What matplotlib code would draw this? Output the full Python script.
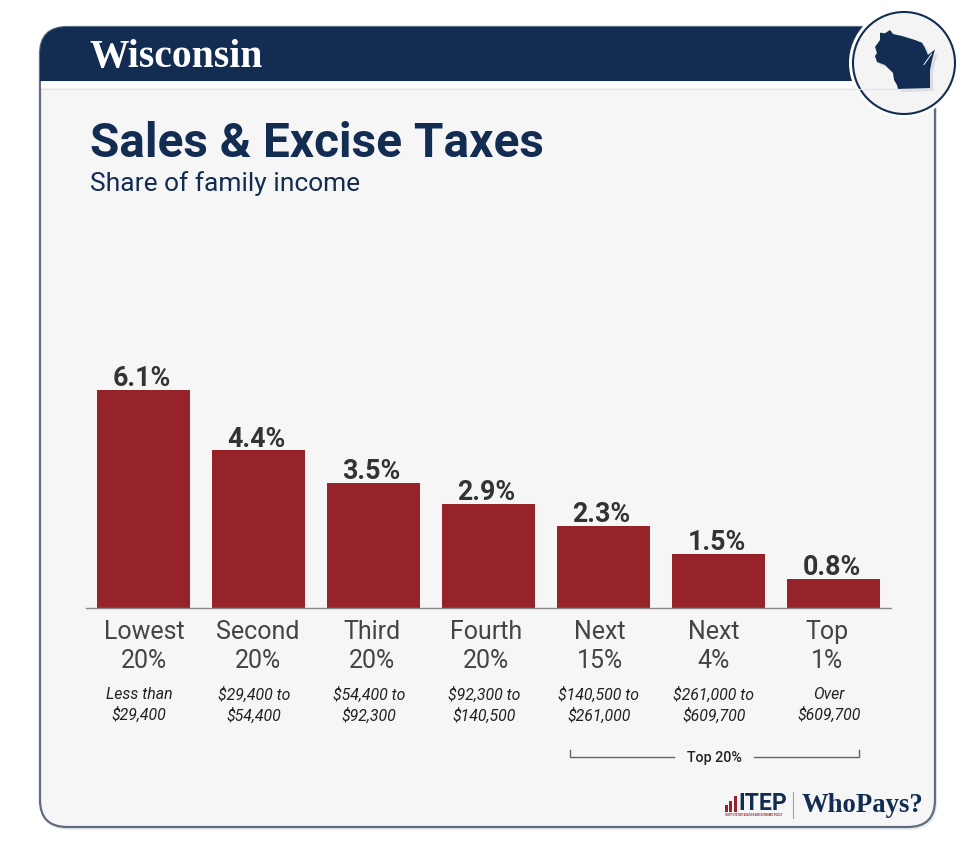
import matplotlib
matplotlib.use("Agg")
import matplotlib.pyplot as plt
from matplotlib.patches import FancyBboxPatch, Circle, Polygon, Rectangle
from matplotlib.path import Path
from matplotlib.patches import PathPatch
from matplotlib.transforms import blended_transform_factory, Affine2D

plt.rcParams["font.family"] = ["Roboto", "DejaVu Sans"]

groups = ["Lowest\n20%", "Second\n20%", "Third\n20%", "Fourth\n20%", "Next\n15%", "Next\n4%", "Top\n1%"]
ranges = ["Less than\n$29,400", "$29,400 to\n$54,400", "$54,400 to\n$92,300", "$92,300 to\n$140,500",
          "$140,500 to\n$261,000", "$261,000 to\n$609,700", "Over\n$609,700"]
values = [6.1, 4.4, 3.5, 2.9, 2.3, 1.5, 0.8]

NAVY = "#132d52"
RED = "#96232a"
GREY = "#444444"
W, H = 975, 858

fig = plt.figure(figsize=(W / 100, H / 100), dpi=100, facecolor="white")

# Fondo de la tarjeta, en pixeles
bg = fig.add_axes([0, 0, 1, 1], zorder=0)
bg.set_xlim(0, W)
bg.set_ylim(H, 0)
bg.axis("off")

bg.add_patch(FancyBboxPatch((42, 30), 895, 800, boxstyle="round,pad=0,rounding_size=27",
                            fc="#d5d8dd", ec="none", alpha=0.5))
bg.add_patch(FancyBboxPatch((40, 27), 895, 800, boxstyle="round,pad=0,rounding_size=27",
                            fc="#f6f6f6", ec="#5f6d80", lw=1.6))
bg.add_patch(Rectangle((41, 82), 893, 6, fc="white", ec="none"))

# Franja superior con esquina redondeada
verts = [(40, 81), (40, 54), (40, 27), (67, 27), (880, 27), (880, 81), (40, 81)]
codes = [Path.MOVETO, Path.LINETO, Path.CURVE3, Path.CURVE3, Path.LINETO, Path.LINETO, Path.CLOSEPOLY]
bg.add_patch(PathPatch(Path(verts, codes), fc=NAVY, ec="none"))
bg.plot([41, 934], [88.5, 88.5], color="#dfe2ea", lw=0.8)

bg.add_patch(Circle((904, 63), 55, fc="white", ec="none"))
bg.add_patch(Circle((904, 63), 51, fc="#f4f4f4", ec=NAVY, lw=1.5))

# Silueta del estado
state = [(880, 32.7), (885, 33.3), (890, 30), (893, 34), (902, 36), (915, 40), (922, 42.7), (925, 48),
         (928, 55), (935, 49.5), (932, 60), (930, 70), (930, 88), (898, 89), (897, 85), (894, 80),
         (893, 73), (885, 65), (877, 62), (875, 56), (877, 53), (875, 47), (880, 40)]
bg.add_patch(Polygon([(x + 3, y + 3) for x, y in state], fc="#c9ccd2", ec="none", alpha=0.6))
bg.add_patch(Polygon(state, fc=NAVY, ec="none"))
bg.plot([931.5, 924], [54, 64.5], color="#f4f4f4", lw=0.7)

bg.text(89, 57, "Wisconsin", family="Liberation Serif", weight="bold", size=28.5, color="white", va="center")
bg.text(90, 144, "Sales & Excise Taxes", weight="bold", size=34.4, color=NAVY, va="center")
bg.text(90, 184, "Share of family income", size=19, color=NAVY, va="center")

# Grafico de barras
ax = fig.add_axes([86 / W, 1 - 608 / H, 805 / W, 408 / H], zorder=1)
ax.patch.set_visible(False)
x = list(range(len(values)))
bars = ax.bar(x, values, width=93 / 115, color=RED)
ax.set_xlim(-0.5, 6.5)
ax.set_ylim(0, 408 / 35.8)
for s in ["top", "left", "right"]:
    ax.spines[s].set_visible(False)
ax.spines["bottom"].set_color("#8a8a8a")
ax.spines["bottom"].set_linewidth(1)
ax.set_yticks([])
ax.set_xticks(x)
ax.set_xticklabels(groups, size=18, color=GREY, linespacing=1.27)
ax.tick_params(axis="x", length=0, pad=8.5)
# Las etiquetas del original van un poco mas juntas que las barras
for i, lab in enumerate(ax.get_xticklabels()):
    lab.set_transform(lab.get_transform() + Affine2D().translate(0.5 - 1.1 * i, 0))
labels = ax.bar_label(bars, labels=[f"{v}%" for v in values], padding=-1.5, size=19.3, weight="bold",
                      color="#333333")
for lab in labels:
    lab.set_position((-1.4, lab.get_position()[1]))

trans = blended_transform_factory(ax.transData, bg.transData)
for i, r in enumerate(ranges):
    t = ax.text(i, 705, r, transform=trans, ha="center", va="center", size=11.4, style="italic",
                color="#222222", linespacing=1.35, clip_on=False)
    t.set_transform(trans + Affine2D().translate(-4.5, 0))

# Corchete Top 20%
bg.plot([570, 570, 674], [750, 757, 757], color="#666666", lw=1)
bg.plot([754, 858.5, 858.5], [757, 757, 750], color="#666666", lw=1)
bg.text(714, 758, "Top 20%", size=10.3, weight="medium", color="#222222", ha="center", va="center")

# Logos
for bx, bh in zip([725, 729, 733.5], [7, 11, 16]):
    bg.add_patch(Rectangle((bx, 812 - bh), 3, bh, fc=RED, ec="none"))
bg.text(738, 804, "ITEP", weight="bold", size=16.5, color=NAVY, va="center")
bg.text(725, 815.5, "INSTITUTE ON TAXATION AND ECONOMIC POLICY", size=1.8, weight="bold", color=RED, va="center")
bg.plot([792.5, 792.5], [792, 818], color="#9aa3b0", lw=0.8)
bg.text(802, 806, "WhoPays?", family="Liberation Serif", weight="bold", size=19.3, color=NAVY, va="center")

plt.savefig("out.png", dpi=100)
plt.close()
